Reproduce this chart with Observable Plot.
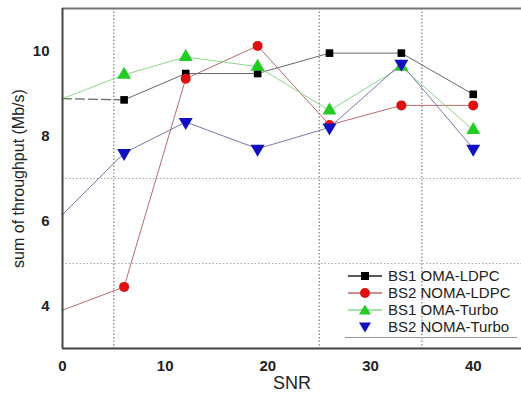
<!DOCTYPE html>
<html>
<head>
<meta charset="utf-8">
<script src="https://cdn.jsdelivr.net/npm/d3@7"></script>
<script src="https://cdn.jsdelivr.net/npm/@observablehq/plot@0.6"></script>
<style>
  html, body { margin: 0; padding: 0; background: #fff; }
  #wrap { position: relative; width: 521px; height: 403px; font-family: "Liberation Sans", Arial, sans-serif; }
  #legend { position: absolute; left: 345px; top: 267px; width: 172px; border-bottom: 1px solid #999; padding-bottom: 2px; }
  .item { display: flex; align-items: center; height: 17px; font-size: 15px; color: #222; }
  .item svg { width: 40px; height: 14px; margin-right: 3px; flex: none; }
</style>
</head>
<body>
<div id="wrap"></div>
<script>
const snr = [0, 6, 12, 19, 26, 33, 40];
const bs1OmaLdpc = [8.88, 8.85, 9.47, 9.47, 9.95, 9.95, 8.98];
const bs2NomaLdpc = [3.9, 4.45, 9.35, 10.12, 8.26, 8.72, 8.72];
const bs1OmaTurbo = [8.88, 9.44, 9.86, 9.63, 8.6, 9.63, 8.14];
const bs2NomaTurbo = [6.15, 7.6, 8.33, 7.7, 8.2, 9.7, 7.7];
const seriesNames = ["BS1 OMA-LDPC", "BS2 NOMA-LDPC", "BS1 OMA-Turbo", "BS2 NOMA-Turbo"];
const xTicks = [0, 10, 20, 30, 40];
const yTicks = [4, 6, 8, 10];
const vGrid = [5, 25, 35];
const hGrid = [5, 7];

const styles = [
  {line: "#666", marker: "#000", symbol: "square", rotate: 0, r: 4.3},
  {line: "#b86a6a", marker: "#e01010", symbol: "circle", rotate: 0, r: 5},
  {line: "#8ad88a", marker: "#22cc22", symbol: "triangle", rotate: 0, r: 5.2},
  {line: "#7878a8", marker: "#1010c0", symbol: "triangle", rotate: 180, r: 5.2}
];
const allValues = [bs1OmaLdpc, bs2NomaLdpc, bs1OmaTurbo, bs2NomaTurbo];
const series = allValues.map((vals, k) => snr.map((x, i) => ({x, y: vals[i], k, i})));

const marks = [
  Plot.ruleX(vGrid, {stroke: "#666", strokeDasharray: "1.5,2", strokeWidth: 1}),
  Plot.ruleY(hGrid, {stroke: "#aaa", strokeDasharray: "1.5,2", strokeWidth: 1}),
];
series.forEach((d, k) => {
  const s = styles[k];
  if (k === 0) {
    marks.push(Plot.line(d.filter(p => p.i <= 1), {x: "x", y: "y", stroke: s.line, strokeWidth: 1.2, strokeDasharray: "9,4"}));
    marks.push(Plot.line(d.filter(p => p.i >= 1), {x: "x", y: "y", stroke: s.line, strokeWidth: 1}));
  } else {
    marks.push(Plot.line(d, {x: "x", y: "y", stroke: s.line, strokeWidth: 1}));
  }
});
series.forEach((d, k) => {
  const s = styles[k];
  marks.push(Plot.dot(d.filter(p => p.i > 0), {x: "x", y: "y", symbol: () => s.symbol, fill: s.marker, stroke: "none", r: s.r, rotate: s.rotate}));
});
marks.push(Plot.ruleY([11], {stroke: "#777", strokeWidth: 2}));
marks.push(Plot.ruleX([44.7], {stroke: "#ddd", strokeWidth: 1}));
marks.push(Plot.ruleX([0], {stroke: "#444", strokeWidth: 2}));
marks.push(Plot.ruleY([3], {stroke: "#444", strokeWidth: 2}));

const chart = Plot.plot({
  width: 521,
  height: 403,
  marginLeft: 62,
  marginRight: 0,
  marginTop: 8,
  marginBottom: 55,
  style: {fontFamily: "'Liberation Sans', Arial, sans-serif", background: "#fff", overflow: "visible", fontSize: "15px"},
  x: {domain: [0, 44.7], label: null},
  y: {domain: [3, 11], label: null},
  symbol: {type: "identity"},
  marks: [
    ...marks,
    Plot.axisX(xTicks, {tickSize: 0, tickPadding: 12, fontSize: 15, fontWeight: "bold", fill: "#222", label: null}),
    Plot.axisY(yTicks, {tickSize: 0, tickPadding: 13, fontSize: 15, fontWeight: "bold", fill: "#222", label: null}),
    Plot.text(["SNR"], {frameAnchor: "bottom", dy: 40, fontSize: 18, fill: "#222"}),
    Plot.text(["sum of throughput (Mb/s)"], {frameAnchor: "left", textAnchor: "middle", dx: -44, rotate: -90, fontSize: 16, fill: "#222"})
  ]
});
const wrap = document.getElementById("wrap");
wrap.appendChild(chart);

const legend = document.createElement("div");
legend.id = "legend";
const symPath = {
  square: '<rect x="16" y="3" width="8" height="8" fill="#000"/>',
  circle: '<circle cx="20" cy="7" r="5" fill="#e01010"/>',
  up: '<polygon points="20,1.5 26,11.5 14,11.5" fill="#22cc22"/>',
  down: '<polygon points="20,12.5 26,2.5 14,2.5" fill="#1010c0"/>'
};
const legSym = ["square", "circle", "up", "down"];
seriesNames.forEach((name, k) => {
  const s = styles[k];
  const line = k < 3 ? `<line x1="3" x2="37" y1="7" y2="7" stroke="${k === 0 ? '#222' : s.line}" stroke-width="1.3"/>` : "";
  const item = document.createElement("div");
  item.className = "item";
  item.innerHTML = `<svg viewBox="0 0 40 14">${line}${symPath[legSym[k]]}</svg><span>${name}</span>`;
  legend.appendChild(item);
});
wrap.appendChild(legend);
</script>
</body>
</html>
